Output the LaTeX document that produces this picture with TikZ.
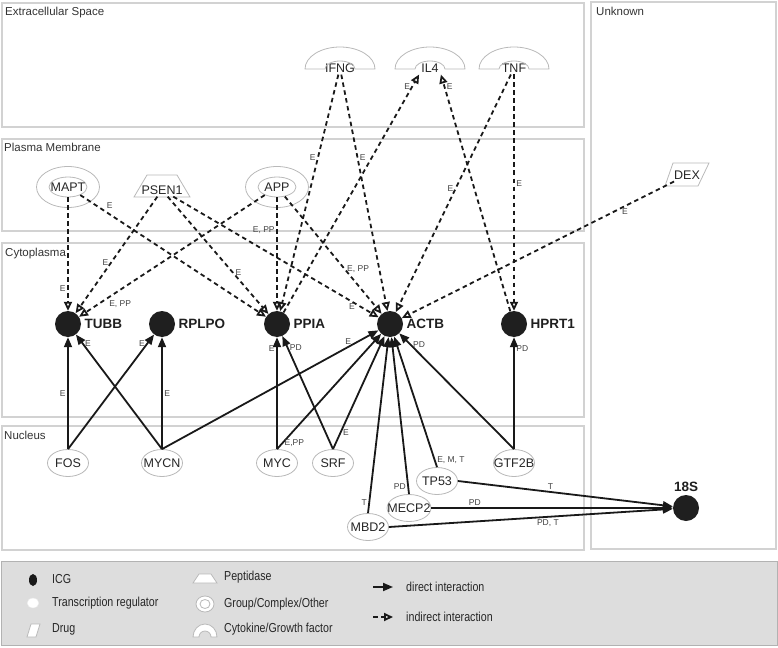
\documentclass[tikz,border=0pt]{standalone}
\usepackage{fontspec}
\setmainfont{Liberation Sans}
\newfontfamily\legendfont[FakeStretch=0.82]{Liberation Sans}
\usetikzlibrary{arrows.meta,shapes.geometric}

\begin{document}
\begin{tikzpicture}[x=1pt,y=-1pt,
  compartment/.style={draw=boxgray,line width=1.2pt},
  comptext/.style={anchor=north west,inner sep=0pt,font=\fontsize{11.5}{13}\selectfont,text=black!80},
  icg/.style={circle,fill=black!88,minimum size=26pt,inner sep=0pt},
  icglabel/.style={font=\bfseries\fontsize{13.5}{15}\selectfont,text=black!88},
  shapeline/.style={draw=shapegray,line width=0.8pt},
  regulator/.style={ellipse,shapeline,fill=white,minimum width=41pt,minimum height=27pt,
    inner xsep=-6pt,inner ysep=0pt,font=\fontsize{12.5}{14}\selectfont,text=black!85},
  group/.style={ellipse,shapeline,minimum width=38pt,minimum height=20pt,
    inner xsep=-5pt,inner ysep=0pt,font=\fontsize{12.5}{14}\selectfont,text=black!85},
  plain/.style={inner sep=2pt,font=\fontsize{12.5}{14}\selectfont,text=black!85},
  elabel/.style={font=\fontsize{8.5}{10}\selectfont,text=black!75,inner sep=1.5pt},
  direct/.style={-{Triangle[length=10pt,width=8pt]},line width=1.8pt,black!90},
  indirect/.style={-{Triangle[open,length=9pt,width=8pt]},line width=1.8pt,
    dash pattern=on 4.5pt off 3.5pt,black!90},
  legendtext/.style={anchor=west,inner sep=0pt,font=\legendfont\fontsize{13}{15}\selectfont,text=black!85}]
% Define colours
\definecolor{boxgray}{RGB}{210,210,210}
\definecolor{shapegray}{RGB}{185,185,185}
\definecolor{legendgray}{RGB}{221,221,221}

\useasboundingbox (0,0) rectangle (778,647);

% Draw compartments
\draw[compartment] (2,3) rectangle (584,127);
\node[comptext] (extra) at (5,7) {Extracellular Space};
\draw[compartment] (2,139) rectangle (584,231);
\node[comptext] (plasma) at (4,143) {Plasma Membrane};
\draw[compartment] (2,243) rectangle (584,417);
\node[comptext] (cyto) at (5,248) {Cytoplasma};
\draw[compartment] (2,426) rectangle (584,550);
\node[comptext] (nucl) at (4,431) {Nucleus};
\draw[compartment] (591,2) rectangle (776,549);
\node[comptext] (unknown) at (596,7) {Unknown};

% Draw ICG nodes
\node[icg,label={[icglabel]right:TUBB}] (tubb) at (68,324) {};
\node[icg,label={[icglabel]right:RPLPO}] (rplpo) at (162,324) {};
\node[icg,label={[icglabel]right:PPIA}] (ppia) at (277,324) {};
\node[icg,label={[icglabel]right:ACTB}] (actb) at (390,324) {};
\node[icg,label={[icglabel]right:HPRT1}] (hprt1) at (514,324) {};
\node[icg,label={[icglabel]above:18S}] (s18) at (686,508) {};

% Draw transcription regulators
\node[regulator] (fos) at (68,463) {FOS};
\node[regulator] (mycn) at (162,463) {MYCN};
\node[regulator] (myc) at (277,463) {MYC};
\node[regulator] (srf) at (333,463) {SRF};
\node[regulator] (gtf2b) at (514,463) {GTF2B};
\node[regulator] (tp53) at (437,481) {TP53};
\node[regulator] (mecp2) at (409,508) {MECP2};
\node[regulator] (mbd2) at (368,527) {MBD2};

% Draw groups
\node[group] (mapt) at (68,187) {MAPT};
\draw[shapeline] (mapt) ellipse[x radius=31.5,y radius=20.5];
\node[group] (app) at (277,187) {APP};
\draw[shapeline] (app) ellipse[x radius=31.5,y radius=20.5];

% Draw peptidase and drug
\node[plain] (psen1) at (162,190) {PSEN1};
\draw[shapeline,shift={(psen1.center)}] (-28,7) -- (-15,-15) -- (15,-15) -- (28,7) -- cycle;
\node[plain] (dex) at (687,175) {DEX};
\draw[shapeline,shift={(dex.center)}] (-22,11) -- (-14,-12) -- (22,-12) -- (11,11) -- cycle;

% Draw cytokines
\node[plain] (ifng) at (340,68) {IFNG};
\node[plain] (il4) at (430,68) {IL4};
\node[plain] (tnf) at (514,68) {TNF};
\foreach \c in {ifng,il4,tnf}
  \draw[shapeline,shift={(\c.center)}] (-35,1) arc[start angle=180,end angle=360,x radius=35,y radius=22]
    -- (15,1) arc[start angle=0,end angle=-180,x radius=15,y radius=8] -- cycle;

% Draw indirect interactions
\draw[indirect] (mapt) -- (tubb) node[elabel,pos=0.8,left] {E};
\draw[indirect] (mapt) -- (ppia) node[elabel,pos=0.13,above right] {E};
\draw[indirect] (psen1) -- (tubb) node[elabel,pos=0.57,left] {E};
\draw[indirect] (psen1) -- (ppia) node[elabel,pos=0.65,right] {E};
\draw[indirect] (psen1) -- (actb) node[elabel,pos=0.87,below] {E};
\draw[indirect] (app) -- (tubb) node[elabel,pos=0.85,below right] {E, PP};
\draw[indirect] (app) -- (ppia) node[elabel,pos=0.29,left] {E, PP};
\draw[indirect] (app) -- (actb) node[elabel,pos=0.62,right] {E, PP};
\draw[indirect] (ifng) -- (ppia) node[elabel,pos=0.35,left] {E};
\draw[indirect] (ifng) -- (actb) node[elabel,pos=0.35,right] {E};
\draw[indirect] (ppia) -- (il4.south west) node[elabel,pos=0.95,left] {E};
\draw[indirect] (hprt1) -- (il4.south east) node[elabel,pos=0.95,right] {E};
\draw[indirect] (tnf) -- (actb) node[elabel,pos=0.48,left] {E};
\draw[indirect] (tnf) -- (hprt1) node[elabel,pos=0.46,right] {E};
\draw[indirect] (dex) -- (actb) node[elabel,pos=0.18,below] {E};

% Draw direct interactions
\draw[direct] (fos.north) -- (tubb) node[elabel,pos=0.5,left] {E};
\draw[direct] (fos.north) -- (rplpo) node[elabel,pos=0.92,left] {E};
\draw[direct] (mycn.north) -- (tubb) node[elabel,pos=0.92,right] {E};
\draw[direct] (mycn.north) -- (rplpo) node[elabel,pos=0.5,right] {E};
\draw[direct] (mycn.north) -- (actb) node[elabel,pos=0.86,above] {E};
\draw[direct] (myc.north) -- (ppia) node[elabel,pos=0.9,left] {E};
\draw[direct] (myc.north) -- (actb) node[elabel,pos=0.05,right] {E,PP};
\draw[direct] (srf.north) -- (ppia) node[elabel,pos=0.9,right] {PD};
\draw[direct] (srf.north) -- (actb) node[elabel,pos=0.15,right] {E};
\draw[direct] (mbd2.north) -- (actb) node[elabel,pos=0.06,left] {T};
\draw[direct] (mecp2.north) -- (actb) node[elabel,pos=0.05,left] {PD};
\draw[direct] (tp53.north) -- (actb) node[elabel,pos=0.05,right] {E, M, T};
\draw[direct] (gtf2b.north) -- (actb) node[elabel,pos=0.9,right] {PD};
\draw[direct] (gtf2b.north) -- (hprt1) node[elabel,pos=0.9,right] {PD};
\draw[direct] (tp53.east) -- (s18) node[elabel,pos=0.43,above] {T};
\draw[direct] (mecp2.east) -- (s18) node[elabel,pos=0.18,above] {PD};
\draw[direct] (mbd2.east) -- (s18) node[elabel,pos=0.56,below] {PD, T};

% Draw legend
\draw[draw=black!30,fill=legendgray,line width=1pt] (1,561) rectangle (777,645);
\fill[black!90] (33,580) ellipse[x radius=4,y radius=6];
\draw[draw=white!90!black,fill=white] (33,603) ellipse[x radius=6,y radius=5];
\draw[shapeline,fill=white] (27,637) -- (31,624) -- (40,624) -- (36,637) -- cycle;
\draw[shapeline,fill=white] (193,583) -- (199,574) -- (211,574) -- (217,583) -- cycle;
\draw[shapeline,fill=white] (205,604) ellipse[x radius=9,y radius=8];
\draw[shapeline,fill=white] (205,604) ellipse[x radius=5,y radius=4.5];
\draw[shapeline,fill=white] (193,637) arc[start angle=180,end angle=360,x radius=12,y radius=13]
  -- (211,637) arc[start angle=0,end angle=-180,x radius=6,y radius=6] -- cycle;
\node[legendtext] (lgicg) at (52,579) {ICG};
\node[legendtext] (lgtr) at (52,603) {Transcription regulator};
\node[legendtext] (lgdrug) at (52,629) {Drug};
\node[legendtext] (lgpep) at (224,577) {Peptidase};
\node[legendtext] (lggroup) at (224,604) {Group/Complex/Other};
\node[legendtext] (lgcyto) at (224,629) {Cytokine/Growth factor};
\draw[direct] (373,587) -- (393,587);
\node[legendtext] (lgdirect) at (406,587) {direct interaction};
\draw[indirect] (373,617) -- (393,617);
\node[legendtext] (lgindirect) at (406,617) {indirect interaction};
\end{tikzpicture}
\end{document}
